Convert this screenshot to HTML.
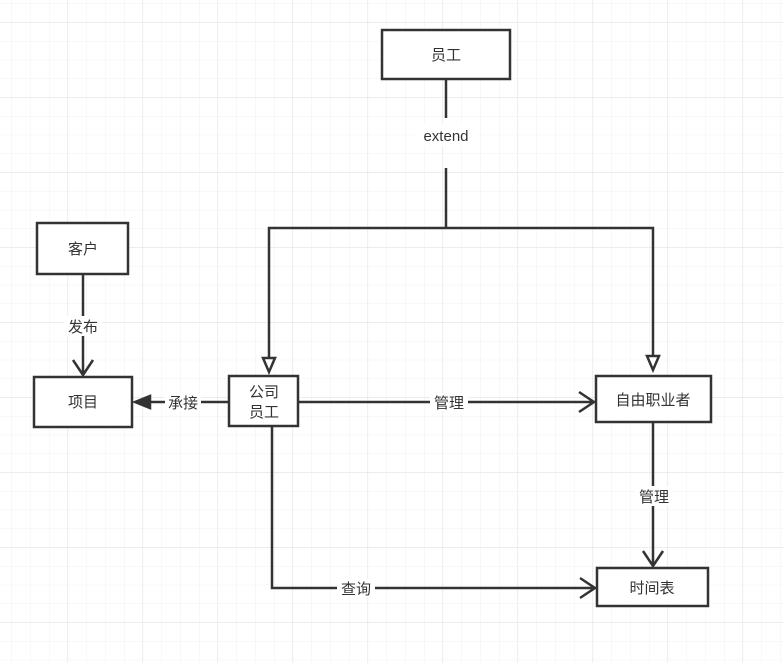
<!DOCTYPE html>
<html><head><meta charset="utf-8"><style>
html,body{margin:0;padding:0;width:783px;height:663px;overflow:hidden;background:#fff;}
svg{display:block;font-family:"Liberation Sans","Noto Sans CJK SC",sans-serif;}
</style></head><body>
<svg width="783" height="663" viewBox="0 0 783 663" xmlns="http://www.w3.org/2000/svg">
<defs>
<pattern id="minor" x="11.5" y="3.5" width="18.75" height="18.75" patternUnits="userSpaceOnUse">
<path d="M0 0H18.75M0 0V18.75" stroke="#f0f0f0" stroke-width="1" fill="none"/>
</pattern>
<pattern id="major" x="67.5" y="22.5" width="75" height="75" patternUnits="userSpaceOnUse">
<path d="M0 0H75M0 0V75" stroke="#e0e0e0" stroke-width="1" fill="none"/>
</pattern>
</defs>
<rect width="783" height="663" fill="url(#minor)"/>
<rect width="783" height="663" fill="url(#major)"/>
<g stroke="#333" stroke-width="2.5" fill="none">
<!-- extend -->
<path d="M446 79V118M446 168V228H269V358M446 228H653V356"/>
<path d="M263 358L269 372L275 358Z" fill="#fff"/>
<path d="M647 356L653 370L659 356Z" fill="#fff"/>
<!-- 客户 -> 项目 -->
<path d="M83 274V375M73 360L83 375L93 360"/>
<!-- 承接 -->
<path d="M229 402H148"/>
<path d="M135 402L150 396V408Z" fill="#333"/>
<!-- 管理 -->
<path d="M298 402H594M579 392L594 402L579 412"/>
<path d="M653 422V566M643 551L653 566L663 551"/>
<!-- 查询 -->
<path d="M272 426V588H595M580 578L595 588L580 598"/>
</g>
<g stroke="#333" stroke-width="2.5" fill="#fff">
<rect x="382" y="30" width="128" height="49"/>
<rect x="37" y="223" width="91" height="51"/>
<rect x="34" y="377" width="98" height="50"/>
<rect x="229" y="376" width="69" height="50"/>
<rect x="596" y="376" width="115" height="46"/>
<rect x="597" y="568" width="111" height="38"/>
</g>
<g font-size="15" fill="#333" text-anchor="middle">
<text x="446" y="60">员工</text>
<text x="83" y="254">客户</text>
<text x="83" y="407">项目</text>
<text x="264" y="397">公司</text>
<text x="264" y="417">员工</text>
<text x="653" y="405">自由职业者</text>
<text x="652" y="593">时间表</text>
</g>
<g font-size="15" fill="#333" text-anchor="middle">
<rect x="415" y="124" width="62" height="22" fill="#fff"/>
<text x="446" y="141">extend</text>
<rect x="64" y="316" width="38" height="20" fill="#fff"/>
<text x="83" y="332">发布</text>
<rect x="165" y="393" width="36" height="18" fill="#fff"/>
<text x="183" y="408">承接</text>
<rect x="430" y="393" width="38" height="18" fill="#fff"/>
<text x="449" y="408">管理</text>
<rect x="635" y="486" width="38" height="20" fill="#fff"/>
<text x="654" y="502">管理</text>
<rect x="337" y="579" width="38" height="18" fill="#fff"/>
<text x="356" y="594">查询</text>
</g>
</svg>
</body></html>
